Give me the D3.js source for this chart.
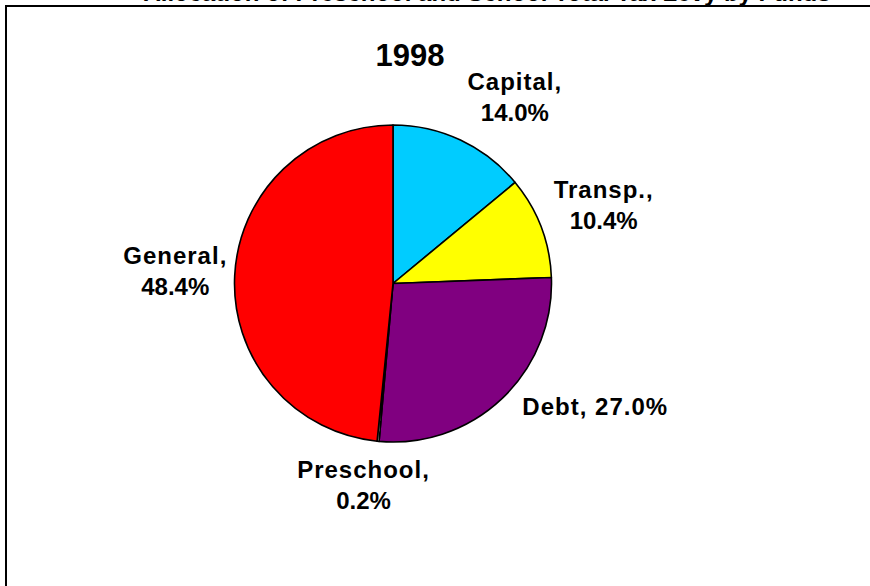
<!DOCTYPE html>
<html>
<head>
<meta charset="utf-8">
<script src="https://cdn.jsdelivr.net/npm/d3@7"></script>
<style>
  html, body { margin: 0; padding: 0; background: #fff; overflow: hidden; }
  text { font-family: "Liberation Sans", Arial, sans-serif; font-weight: bold; fill: #000; }
</style>
</head>
<body>
<div id="chart"></div>
<script>
// ---------------------------------------------------------------------------
// DATA
// ---------------------------------------------------------------------------
const chartTitle = "Allocation of Preschool and School Total Tax Levy by Funds";
const yearLabel = "1998";
const categories = ["Capital", "Transp.", "Debt", "Preschool", "General"];
const shares = [14.0, 10.4, 27.0, 0.2, 48.4];
const sliceColors = ["#00CCFF", "#FFFF00", "#800080", "#FFFFFF", "#FF0000"];

// ---------------------------------------------------------------------------
// LAYOUT
// ---------------------------------------------------------------------------
const width = 870, height = 586;
const cx = 393, cy = 283.5, radius = 158.5;
const labelRadius = 218;
// Excel "best fit" moves some labels off the mid angle
const labelNudge = {
    "Capital": [29, 12],
    "Transp.": [7, 0],
    "Debt": [52, -34],
    "Preschool": [-9, -15],
    "General": [0, -1]
};
const singleLine = new Set(["Debt"]);

const svg = d3.select("#chart").append("svg")
    .attr("width", width)
    .attr("height", height)
    .style("display", "block");

// chart area border (runs off the right and bottom of the picture)
svg.append("rect")
    .attr("x", 6).attr("y", 6)
    .attr("width", 960).attr("height", 700)
    .attr("fill", "none")
    .attr("stroke", "#000")
    .attr("stroke-width", 2);

// title, cut off at the top just like in the source picture
svg.append("text")
    .attr("x", 487).attr("y", 1)
    .attr("text-anchor", "middle")
    .style("font-size", "24px")
    .text(chartTitle);

svg.append("text")
    .attr("x", 410).attr("y", 66)
    .attr("text-anchor", "middle")
    .style("font-size", "31px")
    .text(yearLabel);

const data = categories.map((c, i) => ({ name: c, value: shares[i], color: sliceColors[i] }));

const pie = d3.pie()
    .sort(null)
    .value(d => d.value);

const arc = d3.arc()
    .innerRadius(0)
    .outerRadius(radius);

const labelArc = d3.arc()
    .innerRadius(labelRadius)
    .outerRadius(labelRadius);

const g = svg.append("g")
    .attr("transform", `translate(${cx},${cy})`);

const arcs = pie(data);

g.selectAll("path.slice")
    .data(arcs)
    .enter()
    .append("path")
    .attr("class", "slice")
    .attr("d", arc)
    .attr("fill", d => d.data.color)
    .attr("stroke", "#000")
    .attr("stroke-width", 1.6)
    .attr("stroke-linejoin", "round");

const fmt = d3.format(".1f");

const labels = g.selectAll("text.lbl")
    .data(arcs)
    .enter()
    .append("text")
    .attr("class", "lbl")
    .attr("text-anchor", "middle")
    .style("font-size", "24px")
    .attr("transform", d => {
        const [x, y] = labelArc.centroid(d);
        const n = labelNudge[d.data.name] || [0, 0];
        return `translate(${x + n[0]},${y + n[1]})`;
    });

labels.each(function(d) {
    const t = d3.select(this);
    const name = d.data.name + ",";
    const pct = fmt(d.data.value) + "%";
    if (singleLine.has(d.data.name)) {
        t.append("tspan")
            .attr("x", 0).attr("y", 8)
            .style("letter-spacing", "1px")
            .text(name + " " + pct);
    } else {
        t.append("tspan")
            .attr("x", 0).attr("y", -8)
            .style("letter-spacing", "1px")
            .text(name);
        t.append("tspan")
            .attr("x", 0).attr("y", 23)
            .text(pct);
    }
});
</script>
</body>
</html>
